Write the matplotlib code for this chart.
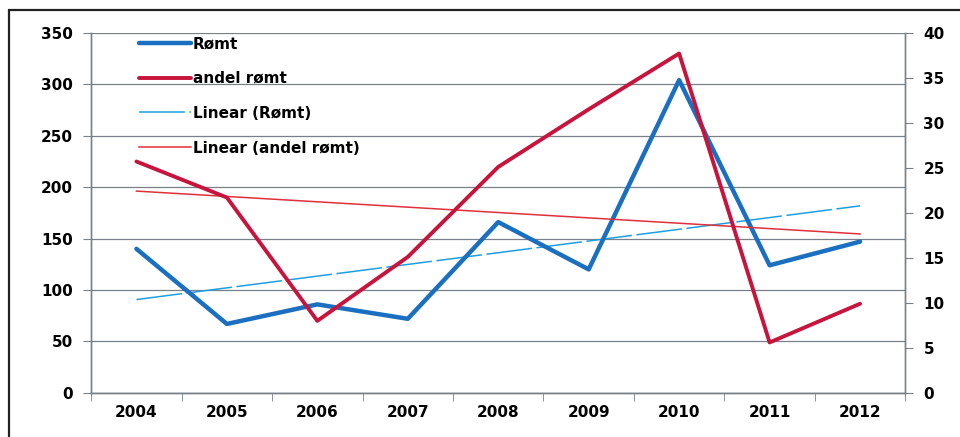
import numpy as np
import matplotlib
matplotlib.use("Agg")
import matplotlib.pyplot as plt
from matplotlib.patches import Rectangle

# Data
years = ["2004", "2005", "2006", "2007", "2008", "2009", "2010", "2011", "2012"]
romt = [140, 67, 86, 72, 166, 120, 304, 124, 147]
andel_romt = [25.7, 21.7, 8.0, 15.1, 25.1, 31.5, 37.7, 5.6, 9.9]

blue = "#1a6fc0"
red = "#c8143c"
blue_trend = "#1e9fe0"
red_trend = "#e0303c"
grid_col = "#7a8087"

plt.rcParams["font.family"] = ["DejaVu Sans"]
plt.rcParams["font.weight"] = "bold"

fig = plt.figure(figsize=(9.6, 4.37), dpi=100)
ax = fig.add_axes([0.095, 0.101, 0.848, 0.824])
ax2 = ax.twinx()

x = np.arange(len(years))

# trendlines (linear fit like Excel)
b_fit = np.polyfit(x, romt, 1)
r_fit = np.polyfit(x, andel_romt, 1)

l1, = ax.plot(x, romt, color=blue, lw=3.2, solid_capstyle="round", zorder=4)
l3, = ax.plot(x, np.polyval(b_fit, x), color=blue_trend, lw=1.1,
              dashes=[30, 3], zorder=3)
l2, = ax2.plot(x, andel_romt, color=red, lw=2.8, solid_capstyle="round", zorder=4)
l4, = ax2.plot(x, np.polyval(r_fit, x), color=red_trend, lw=1.1, zorder=3)

ax.set_xlim(-0.5, len(years) - 0.5)
ax.set_ylim(0, 350)
ax.set_yticks(range(0, 351, 50))
ax2.set_ylim(0, 40)
ax2.set_yticks(range(0, 41, 5))

ax.set_xticks(x)
ax.set_xticklabels(years)
ax.set_xticks(np.arange(-0.5, len(years), 1), minor=True)
ax.tick_params(axis="x", which="major", length=0, pad=9, labelsize=11)
ax.tick_params(axis="x", which="minor", length=6, color=grid_col, direction="out")
ax.tick_params(axis="y", length=6, color=grid_col, labelsize=11, pad=7)
ax2.tick_params(axis="y", length=6, color=grid_col, labelsize=11, pad=7)

ax.grid(axis="y", color=grid_col, lw=0.9)
ax.set_axisbelow(True)

for a in (ax, ax2):
    a.spines["top"].set_visible(False)
    for s in ("left", "right", "bottom"):
        a.spines[s].set_color(grid_col)
        a.spines[s].set_linewidth(1.0)

ax2.legend([l1, l2, l3, l4],
           ["Rømt", "andel rømt", "Linear (Rømt)", "Linear (andel rømt)"],
           loc="upper left", bbox_to_anchor=(0.137, 0.935),
           bbox_transform=fig.transFigure, frameon=False,
           fontsize=11, handlelength=3.4, handletextpad=0.1,
           labelspacing=1.3, borderpad=0)

# outer chart frame
fig.patches.append(Rectangle((0.009, -0.05), 1.2, 1.027, transform=fig.transFigure,
                             fill=False, edgecolor="#222222", lw=1.6))

fig.savefig("out.png", dpi=100)
